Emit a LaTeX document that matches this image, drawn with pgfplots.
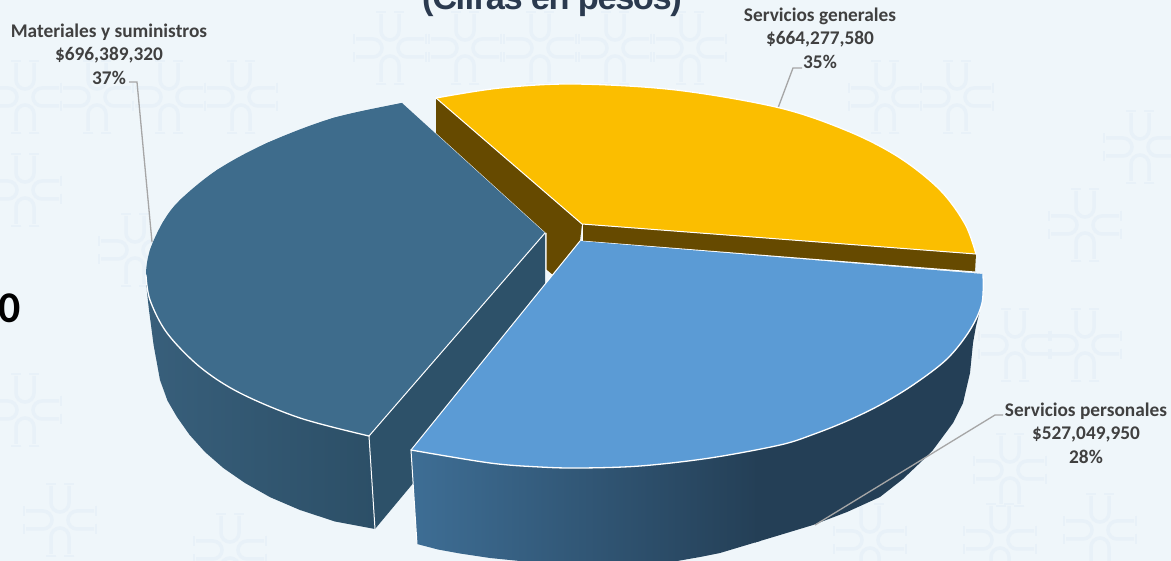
\documentclass[border=0pt]{standalone}
\usepackage{fontspec}
\setmainfont{Carlito}
\newfontfamily\titlefont[LetterSpace=-4]{Liberation Sans}
\usepackage{pgfplots}
\pgfplotsset{compat=1.18}

\definecolor{bgcol}{HTML}{EFF6FA}
\definecolor{wmcol}{HTML}{E8F1F8}
\definecolor{matcol}{HTML}{3E6C8C}
\definecolor{matface}{HTML}{2D5169}
\definecolor{matwallL}{HTML}{385F7B}
\definecolor{matwallR}{HTML}{2C4F67}
\definecolor{gencol}{HTML}{FBBE00}
\definecolor{genface}{HTML}{664A00}
\definecolor{percol}{HTML}{5B9BD5}
\definecolor{perwallL}{HTML}{3E6E95}
\definecolor{perwallM}{HTML}{325575}
\definecolor{perwallR}{HTML}{243F56}
\definecolor{leader}{HTML}{A6A6A6}
\definecolor{labelcol}{HTML}{404040}
\definecolor{titlecol}{HTML}{2B3A4F}

\pgfplotsset{
  poly/.style={sharp plot,no markers,draw=none},
  arc/.style={smooth,tension=0.55,no markers,draw=white,line width=1.3bp,line cap=round},
  lead/.style={sharp plot,no markers,draw=leader,line width=1.3bp},
  seam/.style={sharp plot,no markers,draw=white,line width=1bp,line cap=round},
}
\tikzset{lab/.style={align=center,text=labelcol,font=\fontsize{19.4}{23.5}\selectfont\bfseries}}

% faint watermark rosette, background decoration only
\newcommand{\rosette}[2]{%
  \begin{scope}[shift={(#1bp,#2bp)},x=1bp,y=1bp]
    \foreach \r in {0,90,180,270}{
      \draw[wmcol,line width=3.5bp,rotate=\r] (-9,34) -- (-9,17) arc (180:360:9) -- (9,34);
      \draw[wmcol,line width=2bp,rotate=\r] (-14,36) -- (-4,36) (4,36) -- (14,36);
    }
  \end{scope}}

\begin{document}
\begin{tikzpicture}
\path[use as bounding box,clip] (0,0) rectangle (1171bp,561bp);
\fill[bgcol] (0,0) rectangle (1171bp,561bp);
% centres given from the bottom edge
\foreach \x/\y in {25/464,97/464,169/464,241/464,25/371,25/151,60/41,135/311,
  390/513,465/513,540/513,615/513,690/513,
  885/464,957/464,1140/414,1085/336,1015/216,1085/216,1010/91,1100/31,870/21,1000/21,230/11}{
  \rosette{\x}{\y}
}
\begin{axis}[
  at={(0,0)},anchor=south west,
  scale only axis,width=1171bp,height=561bp,
  xmin=0,xmax=1171,ymin=0,ymax=561,y dir=reverse,
  hide axis,
]
% leader lines behind the pie
\addplot[lead] coordinates {(129,82) (137,82) (152,242)};
\addplot[lead] coordinates {(802,68) (793,68) (778,108)};

% Servicios generales: cut faces, then top
\addplot[poly,fill=genface] coordinates {(436,98) (436,133) (546,233) (546,270) (552,275) (580,241) (582,224)};
\addplot[poly,fill=genface] coordinates {(582,224) (582,241) (975,272) (976,254)};
\addplot[seam] coordinates {(546,233) (546,270) (552,275)};
\addplot[seam] coordinates {(582,224) (582,241)};
\addplot[seam] coordinates {(580,241) (975,272)};
\addplot[poly,fill=gencol] coordinates {(582,224) (436,98) (500,88) (575,84) (676,90) (780,108) (850,132) (900,158) (940,190) (965,224) (976,254)};
\addplot[arc,fill=gencol] coordinates {(436,98) (500,88) (575,84) (676,90) (780,108) (850,132) (900,158) (940,190) (965,224) (976,254)};
\addplot[seam] coordinates {(436,98) (582,224) (976,254)};

% Materiales y suministros: wall, cut face, top
\addplot[poly,left color=matwallL,right color=matwallR] coordinates {(146,275) (147,292) (149,310) (153.6,345) (160,380) (167.5,400.7) (177,417) (189.6,434.9) (205,452) (223.3,468) (245,483) (270.3,497.3) (300,510) (335,521.5) (375,529) (369,436)};
\addplot[poly,fill=matface] coordinates {(545,233) (369,436) (375,529) (545,325)};
\addplot[seam] coordinates {(369,436) (375,529)};
\addplot[poly,fill=matcol] coordinates {(545,233) (402,103) (333,118) (267,143) (217,170) (180,200) (163,222) (150,250) (146,275) (150,300) (167,333) (200,367) (240,393) (300,418) (369,436)};
\addplot[arc,fill=matcol,draw=none] coordinates {(402,103) (333,118) (267,143) (217,170) (180,200) (163,222) (150,250) (146,275) (150,300) (167,333) (200,367) (240,393) (300,418) (369,436)};
\addplot[arc] coordinates {(146,275) (150,300) (167,333) (200,367) (240,393) (300,418) (369,436)};
\addplot[seam] coordinates {(369,436) (545,233)};

% Servicios personales: wall in two parts, then top
\addplot[poly,left color=perwallL,middle color=perwallM,right color=perwallR] coordinates {(411,450) (417,544) (438,549.5) (460,553.5) (490,558) (520,561) (560,566) (600,568) (620,568) (660,564) (700,557) (720,553) (760,541) (760,440)};
\addplot[poly,fill=perwallR] coordinates {(755,440) (755,542.5) (780,535) (813,525) (847,512) (880,497) (903,479) (923,460) (933,450) (953,423) (963,403) (970,373) (973,343) (976,326) (980,310) (983,285)};
\addplot[seam] coordinates {(411,450) (417,544)};
\addplot[poly,fill=percol] coordinates {(580,241) (983,274) (982,303) (970,330) (947,359) (913,385) (880,405) (847,421) (813,434.5) (780,445) (710,458) (640,466) (580,468) (540,467) (490,463) (411,450)};
\addplot[arc,fill=percol] coordinates {(983,274) (982,303) (970,330) (947,359) (913,385) (880,405) (847,421) (813,434.5) (780,445) (710,458) (640,466) (580,468) (540,467) (490,463) (411,450)};
\addplot[seam] coordinates {(411,450) (580,241)};

\addplot[lead] coordinates {(1003,415) (995,415) (815,525)};

\node[lab] at (axis cs:109,54) {Materiales y suministros\\\$696,389,320\\37\%};
\node[lab] at (axis cs:820,38) {Servicios generales\\\$664,277,580\\35\%};
\node[lab] at (axis cs:1086,433) {Servicios personales\\\$527,049,950\\28\%};
\node[anchor=base,text=titlecol,font=\titlefont\fontsize{34.5}{34.5}\selectfont\bfseries] at (axis cs:552,10) {(Cifras en pesos)};
\node[anchor=base east,inner sep=0pt,text=black,font=\fontsize{44}{44}\selectfont\bfseries] at (axis cs:21,322) {0};
\end{axis}
\end{tikzpicture}
\end{document}
